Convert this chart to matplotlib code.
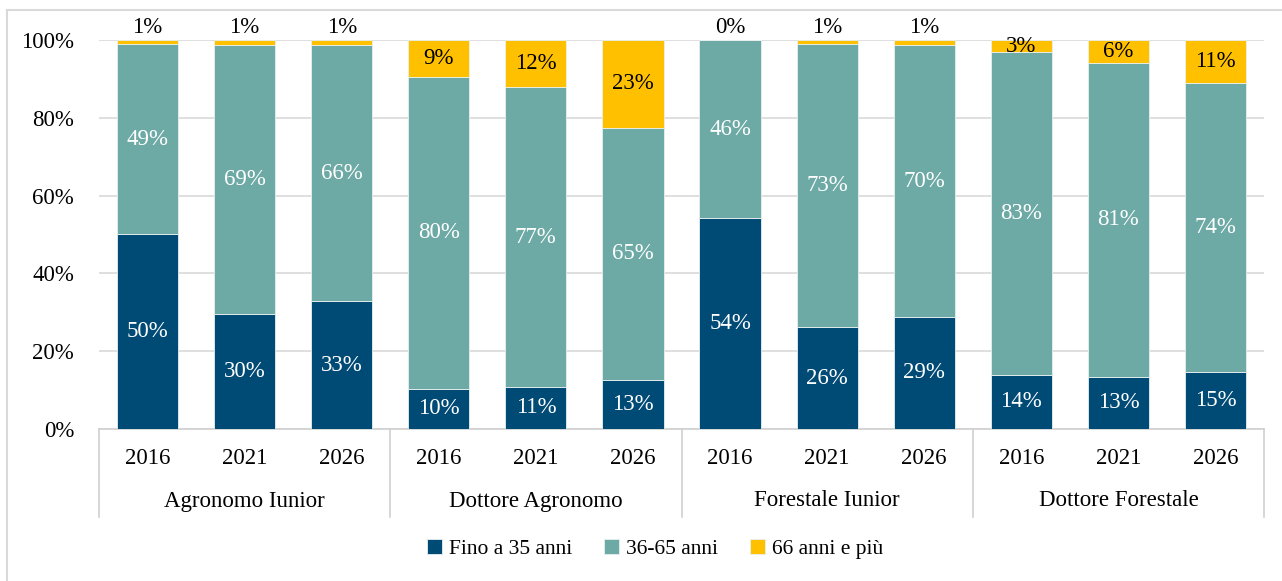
import numpy as np
import matplotlib.pyplot as plt
from matplotlib.lines import Line2D

plt.rcParams['font.family'] = ['Liberation Serif', 'DejaVu Serif']

# data (percent shares)
gruppi = ['Agronomo Iunior', 'Dottore Agronomo', 'Forestale Iunior', 'Dottore Forestale']
anni = ['2016', '2021', '2026']
fino35 = [50.1, 29.6, 32.9, 10.4, 10.8, 12.6, 54.2, 26.2, 28.8, 13.9, 13.4, 14.7]
da36a65 = [48.8, 69.1, 65.8, 80.2, 77.1, 64.8, 45.8, 72.8, 69.8, 83.0, 80.7, 74.2]
oltre66 = [1.1, 1.3, 1.3, 9.4, 12.1, 22.6, 0.0, 1.0, 1.4, 3.1, 5.9, 11.1]
serie = ['Fino a 35 anni', '36-65 anni', '66 anni e più']
colori = ['#004A76', '#6DAAA5', '#FFC000']

W, H = 1282, 581
fig = plt.figure(figsize=(W / 100, H / 100), dpi=100)
ax = fig.add_axes([99 / W, 1 - 429 / H, (1264 - 99) / W, (429 - 40) / H])

x = np.arange(len(fino35))
valori = [np.array(fino35), np.array(da36a65), np.array(oltre66)]
base = np.zeros(len(x))
fs = 16.5
font = {'family': ['Liberation Serif', 'DejaVu Serif'], 'size': fs}
for k, (v, c, nome) in enumerate(zip(valori, colori, serie)):
    ax.bar(x, v, 0.63, bottom=base, color=c, edgecolor='#E8F0F0', linewidth=0.6,
           label=nome, zorder=3)
    for i in range(len(x)):
        testo = '%.0f%%' % v[i]
        if k == 2:
            if v[i] < 2:
                # tiny slices: label sits just above the bar
                ax.text(x[i], 103.1, testo, ha='center', va='center',
                        color='black', zorder=4, fontdict=font)
            else:
                ax.text(x[i], base[i] + v[i] / 2, testo, ha='center', va='center',
                        color='black', zorder=4, fontdict=font)
        else:
            ax.text(x[i], base[i] + v[i] / 2, testo, ha='center', va='center',
                    color='white', zorder=4, fontdict=font)
    base = base + v

ax.set_ylim(0, 100)
ax.set_xlim(-0.5, len(x) - 0.5)
ax.set_yticks([0, 20, 40, 60, 80, 100])
ax.set_yticklabels(['%d%%' % t for t in [0, 20, 40, 60, 80, 100]], fontdict=font)
ax.tick_params(axis='y', length=0, pad=18)
ax.set_xticks([])
ax.grid(axis='y', color='#D9D9D9', linewidth=1.2, zorder=0)
for s in ['top', 'right', 'left']:
    ax.spines[s].set_visible(False)
ax.spines['bottom'].set_color('#D0D0D0')
ax.spines['bottom'].set_linewidth(1.2)

# multi-level category axis
tr = ax.get_xaxis_transform()
for i in range(len(x)):
    ax.text(x[i], -30 / 389, anni[i % 3], ha='center', va='center',
            transform=tr, fontdict=font)
for g, nome in enumerate(gruppi):
    ax.text(3 * g + 1, -72 / 389, nome, ha='center', va='center',
            transform=tr, fontdict=font)
for xs in [-0.5, 2.5, 5.5, 8.5, 11.5]:
    ax.plot([xs, xs], [0, -88 / 389], color='#D0D0D0', linewidth=1.2,
            transform=tr, clip_on=False)

legfont = {'family': ['Liberation Serif', 'DejaVu Serif'], 'size': 15.5}
leg = fig.legend(loc='center', bbox_to_anchor=(655 / W, 1 - 549 / H), ncol=3,
                 frameon=False, prop=legfont, handlelength=0.7, handleheight=0.7,
                 handletextpad=0.3, columnspacing=1.5)

# outer chart border
fig.add_artist(Line2D([7 / W, 1], [1 - 10 / H, 1 - 10 / H], color='#D9D9D9',
                      linewidth=1.5, transform=fig.transFigure))
fig.add_artist(Line2D([7 / W, 7 / W], [0, 1 - 10 / H], color='#D9D9D9',
                      linewidth=1.5, transform=fig.transFigure))

fig.savefig('out.png', dpi=100)
